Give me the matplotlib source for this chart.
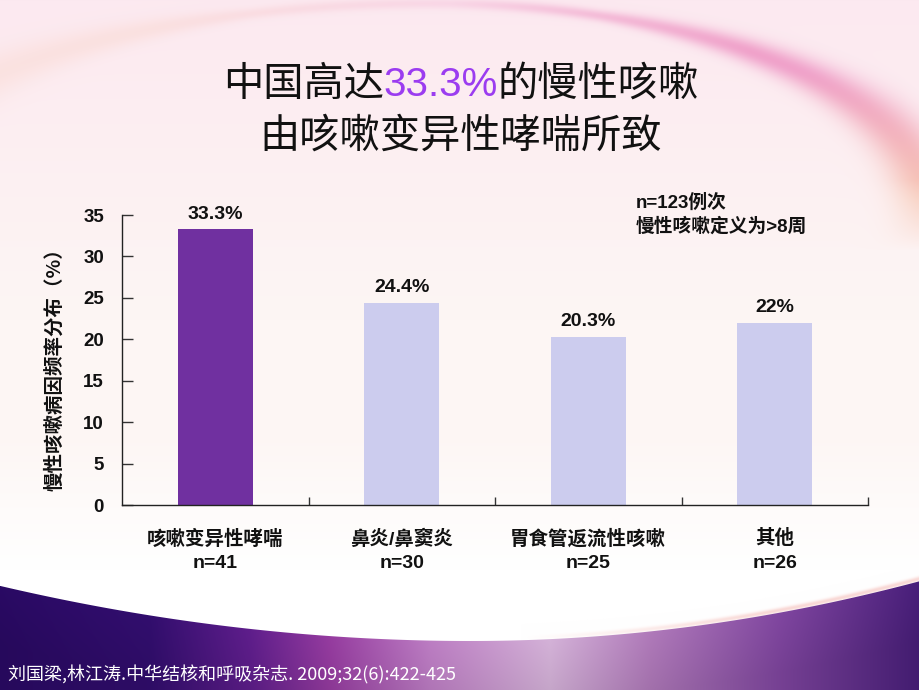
"""Slide chart: causes of chronic cough in China (bar chart on a slide background)."""
import numpy as np
import matplotlib

matplotlib.use("Agg")
import matplotlib.pyplot as plt

W, H = 920, 690

categories = ["咳嗽变异性哮喘", "鼻炎/鼻窦炎", "胃食管返流性咳嗽", "其他"]
counts = ["n=41", "n=30", "n=25", "n=26"]
percent = [33.3, 24.4, 20.3, 22.0]
value_labels = ["33.3%", "24.4%", "20.3%", "22%"]
yticks = [0, 5, 10, 15, 20, 25, 30, 35]

title_line1 = ["中国高达", "33.3%", "的慢性咳嗽"]
title_line2 = "由咳嗽变异性哮喘所致"
ylabel = "慢性咳嗽病因频率分布（%）"
note = ["n=123例次", "慢性咳嗽定义为>8周"]
citation = "刘国梁,林江涛.中华结核和呼吸杂志. 2009;32(6):422-425"

CJK = ["Noto Sans CJK SC", "DejaVu Sans"]
LATIN = ["Liberation Sans", "Noto Sans CJK SC", "DejaVu Sans"]
DARK = "#111111"


def slide_background():
    yy, xx = np.mgrid[0:H, 0:W].astype(float)

    # soft pink at the top fading to white near the bottom
    top = np.array([252, 233, 240], float)
    mid = np.array([253, 246, 244], float)
    low = np.array([255, 255, 255], float)
    w1 = np.clip(yy / 320, 0, 1)[..., None]
    img = top * (1 - w1) + mid * w1
    w2 = np.clip((yy - 430) / 140, 0, 1)[..., None]
    img = img * (1 - w2) + low * w2

    # pink arc across the top, flatter on the left than on the right
    a_x = np.where(xx < 430, 580.0, 500.0)
    rho = np.sqrt(((xx - 430) / a_x) ** 2 + ((yy - 211) / 208) ** 2)
    sigma = (0.026 + 0.045 * np.clip((xx - 600) / 300, 0, 1)
             + 0.05 * np.clip((250 - xx) / 250, 0, 1))
    band = np.exp(-((rho - 1.0) / sigma) ** 2)
    strength = 0.22 + 0.63 * np.clip((xx - 450) / 300, 0, 1)
    fade = strength * np.clip((250 - yy) / 70, 0, 1)
    a = (band * fade)[..., None]
    pink = np.array([238, 150, 196], float)
    peach = np.array([246, 192, 168], float)
    wc = np.clip((yy - 70) / 130, 0, 1)[..., None]
    wl = np.clip((450 - xx) / 300, 0, 1)[..., None]
    arc_col = pink * (1 - wc) + peach * wc
    arc_col = arc_col * (1 - wl) + peach * wl
    img = img * (1 - a) + arc_col * a

    # purple wave at the bottom
    ytop = np.where(xx < 470,
                    640 - 55 * ((xx - 470) / 470) ** 2,
                    640 - 60 * ((xx - 470) / 450) ** 2)
    stops_x = [0, 150, 250, 330, 430, 550, 650, 780, 920]
    stops = np.array([
        [42, 10, 100], [50, 14, 110], [95, 30, 140], [150, 60, 160],
        [188, 125, 195], [212, 178, 216], [176, 122, 186], [128, 70, 160],
        [72, 30, 122]], float)
    purple = np.stack([np.interp(xx, stops_x, stops[:, k]) for k in range(3)], -1)
    darken = np.clip((yy - ytop) / 60, 0, 1)[..., None]
    purple = purple * (1 - 0.08 * darken)
    glow = np.exp(-((yy - ytop + 2) / 2.5) ** 2) * np.clip((xx - 520) / 250, 0, 1)
    g = (0.7 * glow)[..., None]
    img = img * (1 - g) + np.array([246, 200, 196], float) * g
    m = np.clip(yy - ytop, 0, 1)[..., None]
    img = img * (1 - m) + purple * m
    return np.clip(img, 0, 255).astype(np.uint8)


def main():
    fig = plt.figure(figsize=(W / 100, H / 100), dpi=100)

    bg = fig.add_axes([0, 0, 1, 1], zorder=0)
    bg.imshow(slide_background(), extent=[0, W, H, 0], aspect="auto")
    bg.axis("off")

    ax = fig.add_axes([122 / W, 1 - 505 / H, (868 - 122) / W, (505 - 215) / H], zorder=1)
    ax.patch.set_alpha(0)

    x = np.arange(len(categories))
    colors = ["#7030a0"] + ["#ccccee"] * (len(categories) - 1)
    ax.bar(x, percent, width=0.4, color=colors, zorder=2)

    ax.set_xlim(-0.5, len(categories) - 0.5)
    ax.set_ylim(0, 35)
    ax.set_xticks(np.arange(0.5, len(categories), 1))
    ax.set_xticklabels([])
    ax.set_yticks(yticks)
    ax.set_yticklabels([str(v) for v in yticks], fontsize=13.5, fontweight="bold",
                       family=LATIN, color=DARK)
    ax.tick_params(axis="x", direction="in", length=6, width=1, color="#333333")
    ax.tick_params(axis="y", direction="in", length=8, width=1, color="#333333", pad=13)
    for side in ("top", "right"):
        ax.spines[side].set_visible(False)
    for side in ("left", "bottom"):
        ax.spines[side].set_color("#222222")
        ax.spines[side].set_linewidth(1)

    for i, (v, lbl) in enumerate(zip(percent, value_labels)):
        ax.annotate(lbl, xy=(i, v), xytext=(0, 15), textcoords="offset pixels",
                    ha="center", va="center", fontsize=14, fontweight="bold",
                    family=LATIN, color=DARK)

    for i, (cat, n) in enumerate(zip(categories, counts)):
        ax.annotate(cat, xy=(i, 0), xycoords=("data", "axes fraction"),
                    xytext=(0, -34), textcoords="offset pixels", ha="center",
                    va="center", fontsize=14, fontweight="bold", family=LATIN,
                    color=DARK)
        ax.annotate(n, xy=(i, 0), xycoords=("data", "axes fraction"),
                    xytext=(0, -58), textcoords="offset pixels", ha="center",
                    va="center", fontsize=14, fontweight="bold", family=LATIN,
                    color=DARK)

    fig.text(55 / W, 1 - 365 / H, ylabel, rotation=90, ha="center", va="center",
             fontsize=14, fontweight="bold", family=CJK, color=DARK)

    for k, line in enumerate(note):
        fig.text(636 / W, 1 - (203 + 23 * k) / H, line, ha="left", va="center",
                 fontsize=13.5, fontweight="bold", family=LATIN, color=DARK)

    # title, first line has the purple percentage in the middle
    renderer = fig.canvas.get_renderer()
    part_colors = [DARK, "#9b3cf0", DARK]
    parts = []
    for s, c in zip(title_line1, part_colors):
        fam = LATIN if s[0].isdigit() else CJK
        parts.append(fig.text(0, 1 - 96 / H, s, ha="left", va="baseline",
                              fontsize=29, family=fam, color=c, fontweight="medium"))
    widths = [t.get_window_extent(renderer).width for t in parts]
    x0 = 461 - sum(widths) / 2
    for t, w in zip(parts, widths):
        t.set_x(x0 / W)
        x0 += w
    fig.text(461 / W, 1 - 148 / H, title_line2, ha="center", va="baseline",
             fontsize=29, family=CJK, color=DARK, fontweight="medium")

    fig.text(8 / W, 1 - 675 / H, citation, ha="left", va="center",
             fontsize=13, family=CJK, color="white")

    fig.savefig("out.png", dpi=100)


if __name__ == "__main__":
    main()
